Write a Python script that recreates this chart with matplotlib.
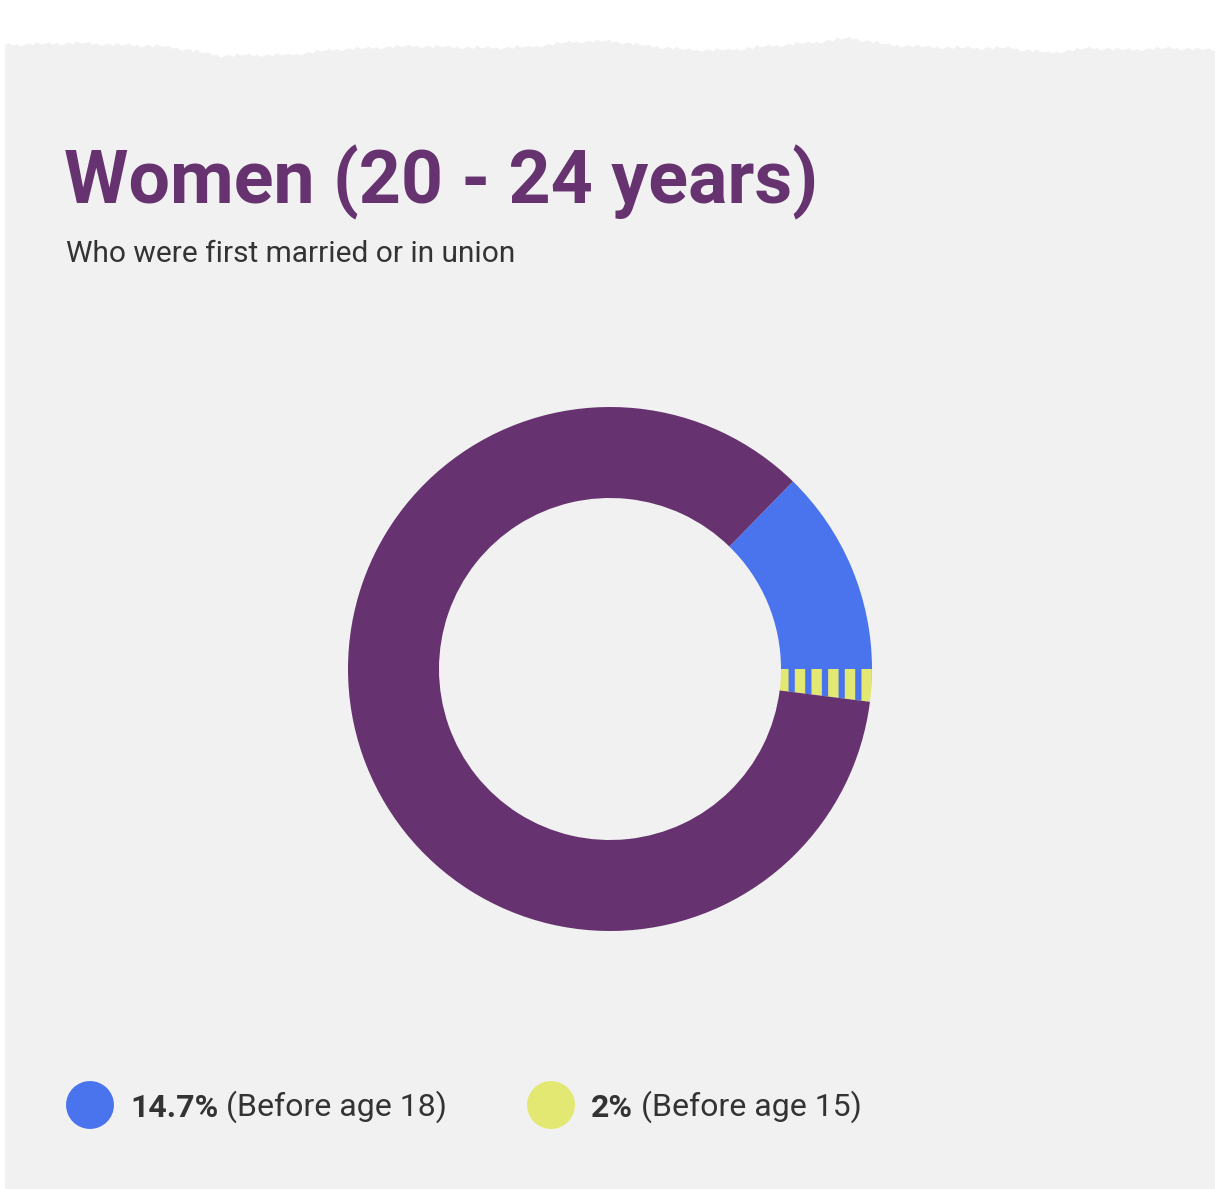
import numpy as np
import matplotlib
matplotlib.use('Agg')
import matplotlib.pyplot as plt

# data
before_18 = 14.7   # % married before 18
before_15 = 2.0    # % married before 15
legend_values = ['14.7%', '2%']
legend_labels = [' (Before age 18)', ' (Before age 15)']

title = 'Women (20 - 24 years)'
subtitle = 'Who were first married or in union'

purple = '#66326f'
blue = '#4a73ee'
yellow = '#e2e872'
panel = '#f1f1f1'

W, H = 1221, 1189
fig = plt.figure(figsize=(W / 100, H / 100), dpi=100)
fig.patch.set_facecolor('white')

# background axes in pixel coords
bg = fig.add_axes([0, 0, 1, 1])
bg.set_xlim(0, W)
bg.set_ylim(H, 0)
bg.axis('off')

# torn paper top edge (decoration)
edge_x = [5, 40, 80, 120, 160, 190, 220, 250, 290, 330, 370, 410, 450, 490, 530,
          570, 610, 650, 690, 730, 770, 810, 850, 890, 930, 970, 1010, 1050, 1090,
          1130, 1170, 1215]
edge_y = [45, 44, 43, 45, 46, 50, 56, 55, 55, 50, 48, 46, 47, 48, 47,
          42, 41, 46, 50, 50, 46, 43, 38, 45, 47, 48, 48, 53, 48,
          50, 48, 50]
jitter = [0, -1.5, 1, -0.5, 2, 0.5, -1, 1.5, -2, 0.5]
xs = np.arange(5, 1216, 4)
ys = np.interp(xs, edge_x, edge_y) + np.resize(jitter, len(xs))
px = np.concatenate([[5], xs, [1215, 1215, 5]])
py = np.concatenate([[H], ys, [ys[-1], H, H]])
bg.fill(px, py, color=panel, lw=0, zorder=0)

bg.text(64, 203, title, fontsize=53, fontweight='bold', family='Roboto',
        color=purple, va='baseline', ha='left')
bg.text(66, 262, subtitle, fontsize=21.5, family='Roboto', color='#333333',
        va='baseline', ha='left')

# legend
leg_x = [90, 551]
leg_colors = [blue, yellow]
bg.scatter(leg_x, [1105, 1105], s=1190, c=leg_colors, lw=0, zorder=3)
for x, v, lab in zip(leg_x, legend_values, legend_labels):
    t = bg.text(x + 40, 1117, v, fontsize=23, fontweight='bold', family='Roboto',
                color='#333333', va='baseline', ha='left')
    bg.annotate(lab, xy=(1, 0), xycoords=t, fontsize=23, family='Roboto',
                color='#333333', va='bottom', ha='left')

# donut
cx, cy, r = 610, 669, 262
ax = fig.add_axes([(cx - r) / W, (H - cy - r) / H, 2 * r / W, 2 * r / H])
ax.axis('off')
plt.rcParams['hatch.linewidth'] = 4.5
sizes = [before_15, before_18 - before_15, 100 - before_18]
wedges, _ = ax.pie(sizes, colors=[yellow, blue, purple], startangle=-before_15 * 3.6,
                   counterclock=True, radius=1,
                   wedgeprops=dict(width=91 / 262, linewidth=0))
wedges[0].set_hatch('|')
wedges[0].set_edgecolor(blue)
wedges[0].set_linewidth(0)
ax.set_xlim(-1, 1)
ax.set_ylim(-1, 1)

fig.savefig('out.png', dpi=100, facecolor='white')
